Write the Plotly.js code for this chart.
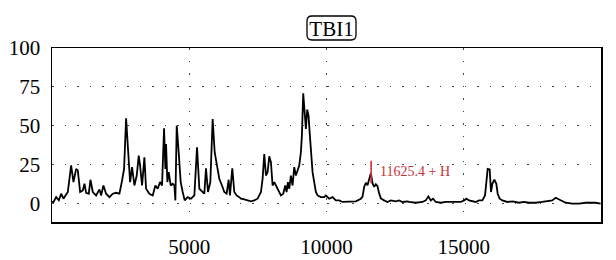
<!DOCTYPE html>
<html>
<head>
<meta charset="utf-8">
<script src="https://cdn.plot.ly/plotly-3.0.1.min.js"></script>
<style>html,body{margin:0;padding:0;background:#fff;}#chart{width:616px;height:260px;}</style>
</head>
<body>
<div id="chart"></div>
<script>
// m/z values (x) and relative intensity (y)
const mz = [0, 55, 152, 249, 334, 418, 491, 576, 697, 782, 879, 940, 1025, 1122, 1183, 1243, 1340, 1401, 1486, 1607, 1729, 1789, 1874, 1971, 2092, 2214, 2335, 2456, 2553, 2626, 2699, 2772, 2845, 2917, 3002, 3087, 3160, 3208, 3281, 3366, 3427, 3548, 3669, 3766, 3851, 3936, 4009, 4082, 4130, 4155, 4203, 4252, 4324, 4397, 4458, 4494, 4543, 4615, 4688, 4761, 4834, 4943, 5064, 5186, 5283, 5368, 5465, 5549, 5610, 5683, 5768, 5853, 5926, 5998, 6095, 6192, 6277, 6362, 6435, 6483, 6568, 6641, 6726, 6823,
  6884, 7005, 7126, 7248, 7369, 7490, 7612, 7672, 7733, 7794, 7854, 7915, 7975, 8036, 8097, 8157, 8254, 8339, 8424, 8497, 8546, 8594, 8643, 8703, 8764, 8825, 8885, 8946, 9007, 9067, 9104, 9152, 9201, 9249, 9298, 9346, 9395, 9443, 9492, 9552, 9613, 9674, 9795, 9916, 9977, 10098, 10220, 10341, 10462, 10583, 10826, 11069, 11251,
  11310, 11372, 11433, 11494, 11554, 11616, 11676, 11737, 11797, 11858, 11918, 11979, 12100, 12221, 12342, 12524, 12646, 12767, 12949,
  13010, 13252, 13495, 13616, 13713, 13798, 13883, 13980, 14162, 14344, 14526, 14708, 14890, 15011, 15096, 15193, 15314, 15435, 15557, 15678, 15775, 15824, 15872, 15945, 15993, 16042, 16115, 16187, 16236, 16309, 16406, 16588, 16770, 17012, 17194, 17376, 17619, 17861, 18104, 18225, 18347, 18468, 18589, 18711, 18953, 19196, 19439, 19621, 19802, 19985];
const intensity = [1, 0.9, 4, 2, 6.2, 3, 5.1, 7.3, 24.4, 13.7, 22.2, 21.2, 7.3, 8.3, 12.6, 6.8, 6.2, 15.2, 7.3, 5.1, 9, 5.1, 11.5, 6.2, 4, 6.2, 6.8, 6.2, 14.7, 22.2, 54.7, 37.2, 13.7, 23.3, 11.5, 17.9, 30.8, 24.4, 11.5, 29.7, 9.4, 6.2, 5.1, 11.5, 9.4, 13.7, 11.5, 48.3, 22.2, 38.2, 13.7, 20.1, 11.5, 12.6, 11.5, 1.9, 50, 32.9, 13.7, 7.3, 1.9, 4, 3, 5.1, 36.1, 9.4, 7.3, 6.2, 22.6, 7.3, 13.7, 54.3, 32.9, 24.4, 15.8, 11.5, 7.3, 6.2, 15.2, 5.1, 22.6, 7.3, 5.1, 4,
  3, 2.6, 1.9, 1.3, 1.9, 3, 7.3, 15.8, 31.8, 17.9, 20.1, 30.3, 26.5, 11.5, 13.7, 11.5, 7.3, 5.1, 6.2, 11.5, 7.3, 13.7, 9.4, 17.9, 11.5, 23.3, 17.9, 21.2, 24.4, 32.9, 43.6, 70.9, 58.5, 47.9, 60.3, 56.4, 43.6, 28.6, 20.1, 13.7, 7.3, 5.1, 4, 4, 5.1, 3, 4, 1.9, 1.9, 0.9, 0.9, 1.3, 3,
  4.2, 10.6, 13.2, 11.7, 16, 19.4, 13, 10.6, 12.3, 11, 6.4, 3.2, 1.9, 0.9, 1.9, 1.3, 1.9, 0.9, 1.3,
  0.9, 0.4, 0.9, 1.9, 4.5, 1.9, 3, 0.9, 0.4, 0.9, 0.9, 1.3, 0.9, 1.9, 3, 1.9, 1.3, 0.9, 1.9, 1.9, 5.1, 13.7, 22.2, 21.8, 7.3, 12.6, 15.2, 12.6, 6.2, 3, 1.9, 0.9, 1.3, 0.4, 0.9, 0.4, 0.4, 0.9, 1.3, 1.9, 3.6, 2.6, 1.9, 0.4, -0.2, -0.2, 0.4, 0.4, 0.4, -0.2];

// annotated peak marker
const peakMz = [11625.4, 11625.4];
const peakSpan = [13, 27.5];
const peakLabel = '11625.4 + H';
const peakLabelY = 20.2;

// axis ticks
const xTicks = [5000, 10000, 15000];
const xTickText = ['5000', '10000', '15000'];
const yTicks = [0, 25, 50, 75, 100];
const yTickText = ['0', '25', '50', '75', '100'];
const chartTitle = 'TBI1';

const serif = '"Liberation Serif", "Times New Roman", serif';

const traces = [
  {x: mz, y: intensity, type: 'scatter', mode: 'lines',
   line: {color: '#000', width: 1.8}, hoverinfo: 'skip', showlegend: false},
  {x: peakMz, y: peakSpan, type: 'scatter', mode: 'lines',
   line: {color: '#d0303a', width: 1.6}, hoverinfo: 'skip', showlegend: false}
];

// rounded box around the title (paper coordinates; plot area 52..601 x 48..222 px)
const bx0 = (307 - 52) / 549, bx1 = (356 - 52) / 549;
const by0 = (222 - 40) / 174, by1 = (222 - 16) / 174;
const rx = 5 / 549, ry = 5 / 174;
const boxPath = `M ${bx0+rx},${by0} L ${bx1-rx},${by0} Q ${bx1},${by0} ${bx1},${by0+ry} L ${bx1},${by1-ry} Q ${bx1},${by1} ${bx1-rx},${by1} L ${bx0+rx},${by1} Q ${bx0},${by1} ${bx0},${by1-ry} L ${bx0},${by0+ry} Q ${bx0},${by0} ${bx0+rx},${by0} Z`;

const layout = {
  width: 616, height: 260,
  margin: {l: 52, r: 15, t: 48, b: 38},
  paper_bgcolor: '#fff', plot_bgcolor: '#fff',
  font: {family: serif, color: '#000', size: 21},
  title: {text: chartTitle, x: 331.5/616, xanchor: 'center', y: 1 - 28.5/260, yanchor: 'middle',
          font: {family: serif, size: 21, color: '#000'}},
  xaxis: {range: [0, 20000], tickvals: xTicks, ticktext: xTickText, ticks: '',
          ticklabelstandoff: 5,
          showline: true, mirror: true, linecolor: '#000', linewidth: 1.5,
          showgrid: true, gridcolor: '#444', gridwidth: 1, griddash: '1.5px,11px',
          zeroline: false, tickfont: {family: serif, size: 21, color: '#000'}},
  yaxis: {range: [-12, 100], tickvals: yTicks, ticktext: yTickText, ticks: '',
          ticklabelstandoff: 6,
          showline: true, mirror: true, linecolor: '#000', linewidth: 1.5,
          showgrid: true, gridcolor: '#444', gridwidth: 1, griddash: '1.5px,11px',
          zeroline: false, tickfont: {family: serif, size: 21, color: '#000'}},
  shapes: [{type: 'path', xref: 'paper', yref: 'paper', path: boxPath,
            line: {color: '#000', width: 1.3}, fillcolor: 'rgba(0,0,0,0)'}],
  annotations: [{x: peakMz[0], y: peakLabelY, xref: 'x', yref: 'y', text: peakLabel,
                 showarrow: false, xanchor: 'left', yanchor: 'middle', xshift: 7,
                 font: {family: serif, size: 14, color: '#c8323c'}}]
};

Plotly.newPlot('chart', traces, layout, {staticPlot: true, displayModeBar: false});
</script>
</body>
</html>
